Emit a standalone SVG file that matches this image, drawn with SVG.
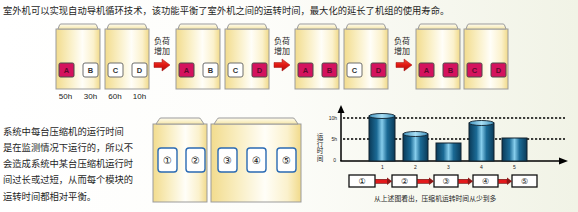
<svg xmlns="http://www.w3.org/2000/svg" width="578" height="212" viewBox="0 0 578 212">
<defs>
<linearGradient id="bg" x1="0" y1="0" x2="1" y2="0">
<stop offset="0" stop-color="#ffffff"/><stop offset="0.45" stop-color="#fdfdfa"/><stop offset="1" stop-color="#f1f3e6"/>
</linearGradient>
<linearGradient id="unitg" x1="0" y1="0" x2="1" y2="0">
<stop offset="0" stop-color="#f2dc8e"/><stop offset="0.3" stop-color="#f9eec2"/><stop offset="0.6" stop-color="#fffef8"/><stop offset="0.85" stop-color="#fbf1cc"/><stop offset="1" stop-color="#f1da8a"/>
</linearGradient>
<linearGradient id="capg" x1="0" y1="0" x2="0" y2="1">
<stop offset="0" stop-color="#fffdf2"/><stop offset="1" stop-color="#f5e6a8"/>
</linearGradient>
<linearGradient id="arrowg" x1="0" y1="0" x2="0" y2="1">
<stop offset="0" stop-color="#f24a3a"/><stop offset="0.5" stop-color="#e01812"/><stop offset="1" stop-color="#b00d0d"/>
</linearGradient>
<linearGradient id="barg" x1="0" y1="0" x2="1" y2="0">
<stop offset="0" stop-color="#0a3a58"/><stop offset="0.3" stop-color="#1b6a95"/><stop offset="0.5" stop-color="#86cdec"/><stop offset="0.7" stop-color="#1b6a95"/><stop offset="1" stop-color="#0a3a58"/>
</linearGradient>
<linearGradient id="topg" x1="0" y1="0" x2="1" y2="0">
<stop offset="0" stop-color="#3f93bf"/><stop offset="0.5" stop-color="#a9def4"/><stop offset="1" stop-color="#3f93bf"/>
</linearGradient>
<style>
text{font-family:"Noto Sans CJK SC","Noto Sans",sans-serif;fill:#1e1e1e}
.zh{font-size:9.3px}
.lab{font-family:"Liberation Sans",Arial,sans-serif;font-size:8px;fill:#222}
.arr{font-size:8px}
.body{fill:url(#unitg);stroke:#9b9b9b;stroke-width:1}
.cap{fill:url(#capg);stroke:#9b9b9b;stroke-width:1}
.on{fill:#d4125e;stroke:#4a4a4a;stroke-width:1}
.off{fill:#ffffff;stroke:#6e6e6e;stroke-width:1}
.mt{font-family:"Liberation Sans",Arial,sans-serif;font-size:7.5px;text-anchor:middle;font-weight:bold}
.mton{fill:#5c0a2c}
.mtoff{fill:#333}
.blue{fill:#ffffff;stroke:#2a6ab3;stroke-width:1.4}
.cn{font-family:"DejaVu Sans",sans-serif;font-size:10px;text-anchor:middle;fill:#111}
.ra{fill:url(#arrowg);stroke:#a31010;stroke-width:0.5}
.axis{stroke:#000;stroke-width:1.5;fill:none}
.dash{stroke:#000;stroke-width:1.6;stroke-dasharray:2.2 1.8;fill:none}
.bar{fill:url(#barg);stroke:#10202c;stroke-width:1}
.btop{fill:url(#topg);stroke:#10202c;stroke-width:0.9}
.tiny{font-family:"Liberation Sans",Arial,sans-serif;font-size:5px;fill:#222}
.pbox{fill:#fff;stroke:#111;stroke-width:1.3}
.pcn{font-family:"DejaVu Sans",sans-serif;font-size:8px;text-anchor:middle;fill:#111}
.rsh{fill:#e3191b;stroke:#6a1010;stroke-width:0.6}
.rhd{fill:#8e1616}
.vt{font-size:6.6px;writing-mode:vertical-rl;letter-spacing:0.7px}
</style>
</defs>
<rect x="0" y="0" width="578" height="212" fill="url(#bg)"/>

<text id="title" class="zh" x="3" y="14">室外机可以实现自动导机循环技术，该功能平衡了室外机之间的运转时间，最大化的延长了机组的使用寿命。</text>

<!-- top row units -->
<g id="unit1"><rect class="body" x="56" y="29" width="44" height="60"/><path class="cap" d="M58,29 L59.5,25 Q60,24 61,24 L95,24 Q96,24 96.5,25 L98,29 Z"/>
<rect class="on" x="59" y="63" width="15" height="14" rx="1.5"/><text class="mt mton" x="66.5" y="73">A</text>
<rect class="off" x="83" y="63" width="15" height="14" rx="2"/><text class="mt mtoff" x="90.5" y="73">B</text></g>
<g id="unit2"><rect class="body" x="105" y="29" width="44" height="60"/><path class="cap" d="M107,29 L108.5,25 Q109,24 110,24 L144,24 Q145,24 145.5,25 L147,29 Z"/>
<rect class="off" x="108" y="63" width="15" height="14" rx="2"/><text class="mt mtoff" x="115.5" y="73">C</text>
<rect class="off" x="132" y="63" width="15" height="14" rx="2"/><text class="mt mtoff" x="139.5" y="73">D</text></g>
<g id="hours"><text class="lab" x="65.5" y="99" text-anchor="middle">50h</text><text class="lab" x="90.5" y="99" text-anchor="middle">30h</text><text class="lab" x="115" y="99" text-anchor="middle">60h</text><text class="lab" x="139.5" y="99" text-anchor="middle">10h</text></g>

<g id="step1"><text class="arr" x="154" y="44">负荷</text><text class="arr" x="154" y="54">增加</text><path class="ra" d="M154,62.5 L162,62.5 L162,59 L170,65 L162,71 L162,67.5 L154,67.5 Z"/></g>

<g id="unit3"><rect class="body" x="176" y="29" width="44" height="60"/><path class="cap" d="M178,29 L179.5,25 Q180,24 181,24 L215,24 Q216,24 216.5,25 L218,29 Z"/>
<rect class="on" x="179" y="63" width="15" height="14" rx="1.5"/><text class="mt mton" x="186.5" y="73">A</text>
<rect class="off" x="203" y="63" width="15" height="14" rx="2"/><text class="mt mtoff" x="210.5" y="73">B</text></g>
<g id="unit4"><rect class="body" x="225" y="29" width="44" height="60"/><path class="cap" d="M227,29 L228.5,25 Q229,24 230,24 L264,24 Q265,24 265.5,25 L267,29 Z"/>
<rect class="off" x="228" y="63" width="15" height="14" rx="2"/><text class="mt mtoff" x="235.5" y="73">C</text>
<rect class="on" x="252" y="63" width="15" height="14" rx="1.5"/><text class="mt mton" x="259.5" y="73">D</text></g>

<g id="step2"><text class="arr" x="274" y="44">负荷</text><text class="arr" x="274" y="54">增加</text><path class="ra" d="M274,62.5 L282,62.5 L282,59 L290,65 L282,71 L282,67.5 L274,67.5 Z"/></g>

<g id="unit5"><rect class="body" x="295" y="29" width="44" height="60"/><path class="cap" d="M297,29 L298.5,25 Q299,24 300,24 L334,24 Q335,24 335.5,25 L337,29 Z"/>
<rect class="on" x="298" y="63" width="15" height="14" rx="1.5"/><text class="mt mton" x="305.5" y="73">A</text>
<rect class="on" x="322" y="63" width="15" height="14" rx="1.5"/><text class="mt mton" x="329.5" y="73">B</text></g>
<g id="unit6"><rect class="body" x="344" y="29" width="44" height="60"/><path class="cap" d="M346,29 L347.5,25 Q348,24 349,24 L383,24 Q384,24 384.5,25 L386,29 Z"/>
<rect class="off" x="347" y="63" width="15" height="14" rx="2"/><text class="mt mtoff" x="354.5" y="73">C</text>
<rect class="on" x="371" y="63" width="15" height="14" rx="1.5"/><text class="mt mton" x="378.5" y="73">D</text></g>

<g id="step3"><text class="arr" x="394" y="44">负荷</text><text class="arr" x="394" y="54">增加</text><path class="ra" d="M396,62.5 L404,62.5 L404,59 L412,65 L404,71 L404,67.5 L396,67.5 Z"/></g>

<g id="unit7"><rect class="body" x="416" y="29" width="44" height="60"/><path class="cap" d="M418,29 L419.5,25 Q420,24 421,24 L455,24 Q456,24 456.5,25 L458,29 Z"/>
<rect class="on" x="419" y="63" width="15" height="14" rx="1.5"/><text class="mt mton" x="426.5" y="73">A</text>
<rect class="on" x="443" y="63" width="15" height="14" rx="1.5"/><text class="mt mton" x="450.5" y="73">B</text></g>
<g id="unit8"><rect class="body" x="464" y="29" width="44" height="60"/><path class="cap" d="M466,29 L467.5,25 Q468,24 469,24 L503,24 Q504,24 504.5,25 L506,29 Z"/>
<rect class="on" x="467" y="63" width="15" height="14" rx="1.5"/><text class="mt mton" x="474.5" y="73">C</text>
<rect class="on" x="491" y="63" width="15" height="14" rx="1.5"/><text class="mt mton" x="498.5" y="73">D</text></g>

<!-- bottom left text -->
<g id="desc">
<text class="zh" x="3" y="135">系统中每台压缩机的运行时间</text>
<text class="zh" x="3" y="151">是在监测情况下运行的，所以不</text>
<text class="zh" x="3" y="167">会造成系统中某台压缩机运行时</text>
<text class="zh" x="3" y="183">间过长或过短，从而每个模块的</text>
<text class="zh" x="3" y="200">运转时间都相对平衡。</text>
</g>

<!-- bottom units -->
<g id="unitL"><rect class="body" x="153" y="124" width="54" height="78"/><path class="cap" d="M156,124 L159,119.5 Q159.5,118 161,118 L199,118 Q200.5,118 201,119.5 L204,124 Z"/>
<rect class="blue" x="158" y="148" width="19" height="24" rx="3"/><text class="cn" x="167.5" y="164">①</text>
<rect class="blue" x="186" y="148" width="19" height="24" rx="3"/><text class="cn" x="195.5" y="164">②</text></g>
<g id="unitR"><rect class="body" x="211" y="124" width="90" height="78"/><path class="cap" d="M214,124 L217,119.5 Q217.5,118 219,118 L293,118 Q294.5,118 295,119.5 L298,124 Z"/>
<rect class="blue" x="218" y="148" width="19" height="24" rx="3"/><text class="cn" x="227.5" y="164">③</text>
<rect class="blue" x="247" y="148" width="19" height="24" rx="3"/><text class="cn" x="256.5" y="164">④</text>
<rect class="blue" x="277" y="148" width="19" height="24" rx="3"/><text class="cn" x="286.5" y="164">⑤</text></g>

<!-- chart -->
<g id="chart">
<line class="dash" x1="343" y1="118" x2="565" y2="118"/>
<line class="dash" x1="343" y1="139" x2="565" y2="139"/>
<line class="axis" x1="341" y1="111" x2="341" y2="161"/>
<polygon points="341,105 337.5,113 344.5,113" fill="#000"/>
<line class="axis" x1="340.3" y1="161" x2="561" y2="161"/>
<polygon points="568,161 559,157.5 559,164.5" fill="#000"/>
<text class="tiny" x="337" y="120" text-anchor="end">10h</text>
<text class="tiny" x="337" y="141" text-anchor="end">5h</text>
<text class="tiny" x="336" y="162" text-anchor="end">0</text>
<text class="vt" x="320" y="133">运行时间</text>
<g id="bar1"><rect class="bar" x="369" y="116" width="26" height="45"/><ellipse class="btop" cx="382" cy="116" rx="13" ry="2.5"/></g>
<g id="bar2"><rect class="bar" x="403" y="134" width="25" height="27"/><ellipse class="btop" cx="415.5" cy="134" rx="12.5" ry="2.5"/></g>
<g id="bar3"><rect class="bar" x="436" y="143" width="25" height="18"/></g>
<g id="bar4"><rect class="bar" x="469" y="123" width="25" height="38"/><ellipse class="btop" cx="481.5" cy="123" rx="12.5" ry="2.5"/></g>
<g id="bar5"><rect class="bar" x="502" y="138" width="25" height="23"/></g>
<text class="tiny" x="382.5" y="169" text-anchor="middle">1</text>
<text class="tiny" x="415.5" y="169" text-anchor="middle">2</text>
<text class="tiny" x="448.5" y="169" text-anchor="middle">3</text>
<text class="tiny" x="481.5" y="169" text-anchor="middle">4</text>
<text class="tiny" x="514.5" y="169" text-anchor="middle">5</text>
</g>

<!-- process row -->
<g id="p1"><rect class="pbox" x="349" y="175" width="26" height="12"/><text class="pcn" x="362" y="184">①</text></g>
<g id="p2"><rect class="pbox" x="392" y="175" width="25" height="12"/><text class="pcn" x="404.5" y="184">②</text></g>
<g id="p3"><rect class="pbox" x="434" y="175" width="24" height="12"/><text class="pcn" x="446" y="184">③</text></g>
<g id="p4"><rect class="pbox" x="473" y="175" width="25" height="12"/><text class="pcn" x="485.5" y="184">④</text></g>
<g id="p5"><rect class="pbox" x="512" y="175" width="25" height="12"/><text class="pcn" x="524.5" y="184">⑤</text></g>
<g id="connectors">
<rect class="rsh" x="375.6" y="179.3" width="12" height="4"/><polygon class="rhd" points="387,177.5 392,181.3 387,185"/>
<rect class="rsh" x="417.6" y="179.3" width="11.5" height="4"/><polygon class="rhd" points="429,177.5 434,181.3 429,185"/>
<rect class="rsh" x="458.6" y="179.3" width="9.5" height="4"/><polygon class="rhd" points="468,177.5 473,181.3 468,185"/>
<rect class="rsh" x="498.6" y="179.3" width="8.5" height="4"/><polygon class="rhd" points="507,177.5 512,181.3 507,185"/>
</g>
<text id="caption" x="374" y="201" style="font-size:6.8px">从上述图看出，压缩机运转时间从少到多</text>
</svg>
